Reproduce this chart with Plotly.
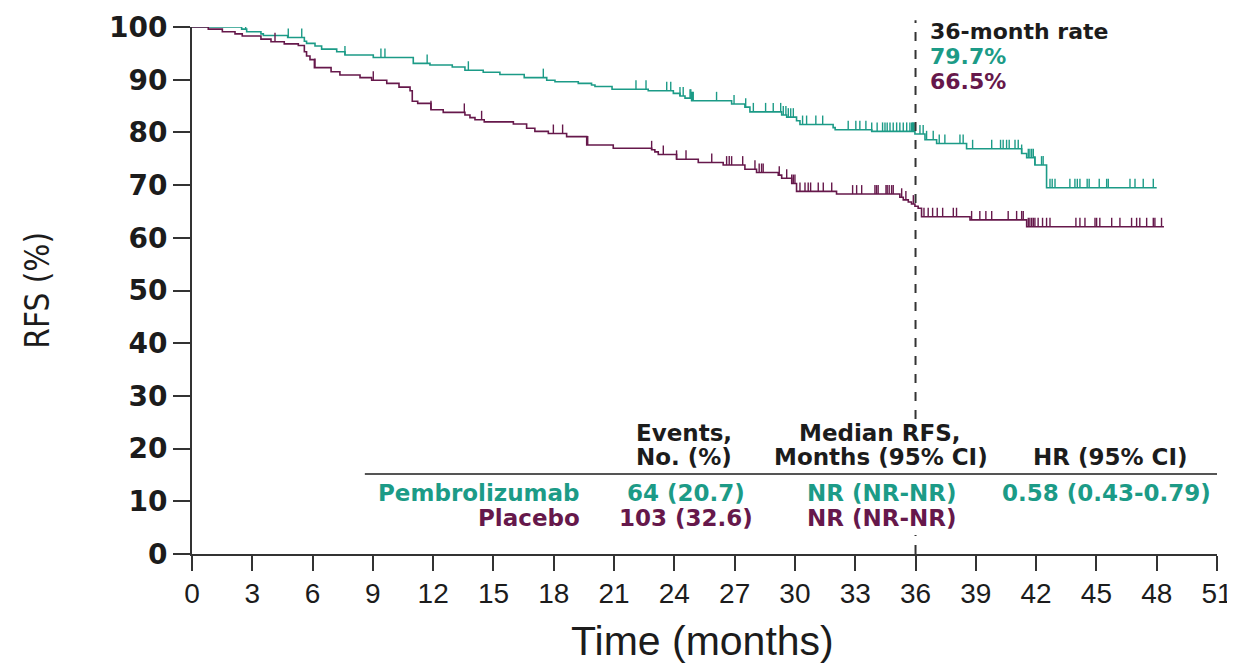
import numpy as np
import plotly.graph_objects as go

# ---------------- data ----------------
x_ticks = list(range(0, 52, 3))
y_ticks = list(range(0, 101, 10))

pembro_times = [2.47, 2.72, 3.43, 3.55, 4.76, 5.59, 5.7, 6.12, 6.45, 7.2, 7.61, 9.02,
                11.01, 11.84, 12.95, 13.58, 14.49, 15.32, 16.53, 17.65, 18.06, 19.22,
                19.88, 20.05, 20.9, 22.7, 23.95, 24.28, 24.53, 24.86, 26.85, 27.51,
                27.76, 29.34, 29.59, 30.08, 30.25, 31.9, 32.0, 33.82, 35.97, 36.47,
                37.05, 38.54, 41.28, 41.53, 41.94, 42.52]
pembro_surv = [99.6, 99.1, 98.7, 98.4, 98.0, 97.3, 96.9, 96.4, 95.8, 95.3, 94.7, 94.2,
               93.1, 92.8, 92.4, 91.8, 91.4, 91.0, 90.4, 89.9, 89.6, 89.3,
               89.0, 88.7, 88.2, 87.9, 87.4, 86.9, 86.5, 86.0, 85.4, 84.8,
               83.9, 83.3, 82.9, 82.2, 81.5, 80.9, 80.5, 80.2, 79.7, 78.6,
               77.9, 76.9, 76.0, 75.2, 73.8, 69.5]
pembro_end = 48.0
pembro_censor = [0.68, 2.02, 2.67, 4.79, 5.46, 7.61, 9.4, 9.6, 11.7, 13.75, 17.48,
                 22.09, 22.59, 23.62, 23.82, 24.28, 24.44, 24.78, 24.82, 24.86, 24.9,
                 24.94, 26.1, 26.97, 27.55, 27.93, 28.54, 28.92, 29.29, 29.42, 29.55,
                 29.67, 29.79, 29.92, 30.38, 30.58, 31.04, 31.38, 32.65, 33.03, 33.23,
                 33.53, 33.82, 34.09, 34.36, 34.48, 34.59, 34.73, 34.89, 35.06, 35.22,
                 35.39, 35.56, 35.72, 35.81, 35.85, 35.89, 35.93, 36.22, 36.38, 36.55,
                 36.88, 37.18, 37.46, 38.21, 38.37, 38.84, 39.79, 40.23, 40.36, 40.53,
                 40.66, 40.95, 41.11, 41.28, 41.61, 41.69, 41.78, 41.86, 41.94, 42.27,
                 42.35, 42.69, 42.8, 42.94, 43.68, 43.93, 44.05, 44.18, 44.54, 44.64,
                 45.14, 45.51, 45.59, 46.67, 46.92, 47.33, 47.83]

placebo_times = [0.81, 1.51, 2.14, 2.5, 3.43, 3.93, 4.59, 5.29, 5.59, 5.7, 5.87, 6.09,
                 6.92, 7.36, 8.36, 8.94, 9.69, 10.3, 10.85, 10.96, 11.23, 11.89, 12.5,
                 13.58, 13.83, 14.08, 14.54, 15.99, 16.65, 17.06, 17.73, 18.64, 19.64,
                 20.96, 22.87, 23.03, 23.2, 24.11, 25.19, 26.43, 27.51, 28.09, 29.17,
                 29.34, 29.84, 30.08, 32.07, 35.22, 35.39, 35.64, 35.8, 35.97, 36.13,
                 36.3, 38.71, 41.53]
placebo_surv = [99.6, 99.1, 98.7, 98.3, 97.7, 97.2, 96.8, 96.5, 95.3, 94.5, 93.8, 92.3,
                91.5, 90.9, 90.4, 89.9, 89.3, 88.6, 87.9, 85.9, 85.5, 84.3, 83.8,
                83.3, 82.8, 82.4, 82.0, 81.6, 80.8, 80.2, 79.8, 79.2, 77.6,
                77.0, 76.7, 76.3, 75.8, 74.9, 74.3, 73.8, 73.0, 72.4, 71.9,
                71.3, 70.3, 68.8, 68.3, 67.7, 67.2, 66.8, 66.4, 66.0, 65.6,
                64.0, 63.4, 62.1]
placebo_end = 48.36
placebo_censor = [4.13, 6.12, 9.02, 11.89, 13.55, 14.41, 17.98, 18.44, 19.69, 22.87,
                  23.45, 24.11, 24.58, 25.86, 26.6, 26.73, 26.85, 27.4, 28.01, 28.22,
                  28.34, 28.42, 29.22, 29.59, 29.84, 29.92, 30.0, 30.25, 30.5, 30.66,
                  30.78, 31.16, 31.41, 31.83, 32.87, 33.07, 33.32, 33.98, 34.06, 34.14,
                  34.53, 34.59, 34.69, 34.81, 34.89, 35.31, 35.52, 35.89, 36.42, 36.63,
                  36.85, 37.08, 37.35, 37.88, 38.04, 38.79, 39.2, 39.5, 39.79, 40.61,
                  41.03, 41.28, 41.36, 41.61, 41.69, 41.78, 41.86, 41.94, 42.1, 42.32,
                  42.52, 42.69, 43.98, 44.18, 44.43, 44.93, 45.01, 45.17, 45.76, 46.17,
                  46.75, 47.0, 47.16, 47.5, 47.83, 47.91, 48.24]

rate_label = "36-month rate"
rate_pembro = "79.7%"
rate_placebo = "66.5%"
landmark_month = 36

# ---------------- styles ----------------
TEAL = "#1c9b87"
MAROON = "#66184b"
INK = "#1c1c1c"
BOLDWIDE = "DejaVu Sans"
SANS = "Liberation Sans, Arial, sans-serif"
NARROW = "Liberation Sans Narrow, Arial Narrow, DejaVu Sans Condensed, sans-serif"
X_MAX = 51


def km_xy(times, surv, end):
    xs = [0.0] + list(times) + [end]
    ys = [100.0] + list(surv) + [surv[-1]]
    return xs, ys


def censor_y(times, surv, cens):
    t = np.asarray(times)
    s = np.concatenate([[100.0], np.asarray(surv)])
    idx = np.searchsorted(t, np.asarray(cens), side="right")
    return s[idx]


fig = go.Figure()
for times, surv, end, cens, col in [
    (pembro_times, pembro_surv, pembro_end, pembro_censor, TEAL),
    (placebo_times, placebo_surv, placebo_end, placebo_censor, MAROON),
]:
    xs, ys = km_xy(times, surv, end)
    fig.add_trace(go.Scatter(x=xs, y=ys, mode="lines", line=dict(color=col, width=1.6, shape="hv"),
                             hoverinfo="skip", showlegend=False, cliponaxis=False))
    fig.add_trace(go.Scatter(
        x=cens, y=censor_y(times, surv, cens), mode="markers", cliponaxis=False,
        marker=dict(size=1, color="rgba(0,0,0,0)"),
        error_y=dict(type="constant", value=1.7, valueminus=0, symmetric=False,
                     width=0, thickness=1.4, color=col),
        hoverinfo="skip", showlegend=False))

# dashed reference line at 36 months (paper coords so it can rise above the axes)
lx = landmark_month / X_MAX
for y0, y1 in [(0.256, 1.013), (0.0, 0.036)]:
    fig.add_shape(type="line", x0=lx, x1=lx, y0=y0, y1=y1, xref="paper", yref="paper",
                  line=dict(color="#333333", width=2, dash="dash"), layer="above")

# table rule
fig.add_shape(type="line", x0=8.6, x1=51, y0=15.2, y1=15.2, xref="x", yref="y",
              line=dict(color="#555555", width=2))

ann = []


def A(text, x, y, color=INK, size=23, family=BOLDWIDE, xanchor="center", bold=True):
    ann.append(dict(text=text, x=x, y=y, xref="x", yref="y", showarrow=False,
                    xanchor=xanchor, yanchor="middle",
                    font=dict(family=family, size=size, color=color,
                              weight="bold" if bold else "normal")))


A(rate_label, 36.6, 99.2, INK, 22, BOLDWIDE, "left")
A(rate_pembro, 36.6, 94.4, TEAL, 22, BOLDWIDE, "left")
A(rate_placebo, 36.6, 89.6, MAROON, 22, BOLDWIDE, "left")

A("Events,", 24.5, 23.0)
A("No. (%)", 24.5, 18.4)
A("Median RFS,", 34.2, 23.0)
A("Months (95% CI)", 34.3, 18.4)
A("HR (95% CI)", 45.7, 18.4)
A("Pembrolizumab", 19.4, 11.6, TEAL, xanchor="right")
A("Placebo", 19.4, 6.8, MAROON, xanchor="right")
A("64 (20.7)", 24.6, 11.6, TEAL)
A("103 (32.6)", 24.6, 6.8, MAROON)
A("NR (NR-NR)", 34.3, 11.6, TEAL)
A("NR (NR-NR)", 34.3, 6.8, MAROON)
A("0.58 (0.43-0.79)", 45.5, 11.6, TEAL)

# axis titles
ann.append(dict(text="Time (months)", x=0.4985, y=-0.165, xref="paper", yref="paper",
                showarrow=False, xanchor="center", yanchor="middle",
                font=dict(family=SANS, size=41, color=INK)))
ann.append(dict(text="RFS (%)", x=-0.151, y=0.50, xref="paper", yref="paper",
                showarrow=False, xanchor="center", yanchor="middle", textangle=-90,
                font=dict(family=NARROW, size=33, color=INK)))

fig.update_layout(
    width=1227, height=658,
    margin=dict(l=184, r=18, t=19, b=112, pad=0, autoexpand=False),
    paper_bgcolor="white", plot_bgcolor="white",
    showlegend=False,
    annotations=ann,
    xaxis=dict(range=[0, X_MAX], tickvals=x_ticks, ticktext=[str(v) for v in x_ticks],
               ticks="outside", ticklen=15, tickwidth=1.5, tickcolor="#333333",
               showline=True, linecolor="#333333", linewidth=2, automargin=False,
               showgrid=False, zeroline=False, ticklabelstandoff=-2,
               tickfont=dict(family=SANS, size=28, color=INK)),
    yaxis=dict(range=[0, 100], tickvals=y_ticks, ticktext=[str(v) for v in y_ticks],
               ticks="outside", ticklen=17, tickwidth=1.5, tickcolor="#333333",
               showline=True, linecolor="#333333", linewidth=2, automargin=False,
               showgrid=False, zeroline=False,
               tickfont=dict(family=BOLDWIDE, size=28, color=INK, weight="bold")),
)

fig.write_html("out.html")
